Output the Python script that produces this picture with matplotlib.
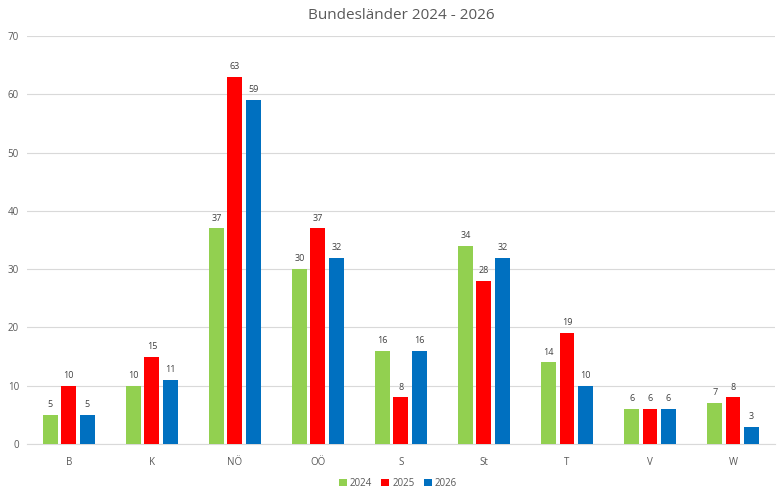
import numpy as np
import matplotlib.pyplot as plt

plt.rcParams['font.family'] = ['Open Sans', 'DejaVu Sans']

categories = ['B', 'K', 'NÖ', 'OÖ', 'S', 'St', 'T', 'V', 'W']
v2024 = [5, 10, 37, 30, 16, 34, 14, 6, 7]
v2025 = [10, 15, 63, 37, 8, 28, 19, 6, 8]
v2026 = [5, 11, 59, 32, 16, 32, 10, 6, 3]
series = [('2024', v2024, '#92D050'), ('2025', v2025, '#FF0000'), ('2026', v2026, '#0070C0')]

txt = '#595959'
fig = plt.figure(figsize=(7.8, 4.95), dpi=100)
ax = fig.add_axes([0.035, 0.103, 0.958, 0.824])

x = np.arange(len(categories))
w = 0.18
step = 0.222
for i, (name, vals, col) in enumerate(series):
    pos = x + (i - 1) * step
    ax.bar(pos, vals, width=w, color=col, label=name, zorder=3)
    for p, v in zip(pos, vals):
        ax.text(p, v + 1.0, str(v), ha='center', va='bottom', fontsize=6.5, color='#404040')

ax.set_xlim(-0.5, len(categories) - 0.5)
ax.set_ylim(0, 70)
ax.set_yticks(range(0, 71, 10))
ax.set_xticks(x)
ax.set_xticklabels(categories)
ax.grid(axis='y', color='#D9D9D9', linewidth=0.8, zorder=0)
for s in ['top', 'right', 'left']:
    ax.spines[s].set_visible(False)
ax.spines['bottom'].set_color('#D9D9D9')
ax.tick_params(axis='both', length=0, labelsize=7, colors=txt)
ax.tick_params(axis='x', pad=9)
ax.tick_params(axis='y', pad=6)

ax.set_title('Bundesländer 2024 - 2026', fontsize=11, color=txt, pad=12)
fig.legend(loc='lower center', ncol=3, frameon=False, fontsize=7, labelcolor=txt,
           handlelength=0.8, handleheight=0.8, handletextpad=0.3, columnspacing=1.0,
           bbox_to_anchor=(0.51, -0.005))

fig.savefig('out.png', dpi=100)
